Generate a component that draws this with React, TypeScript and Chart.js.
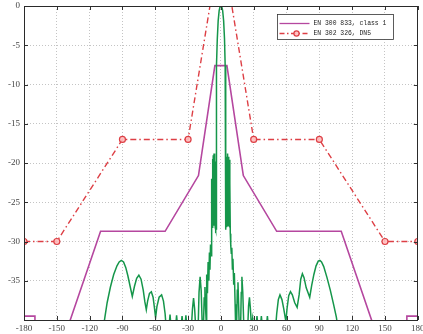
import { useEffect, useRef } from 'react';
import { Chart, registerables } from 'chart.js';

Chart.register(...registerables);

const seriesNames = ['EN 300 833, class 1', 'EN 302 326, DN5'];

const xTickValues = [-180, -150, -120, -90, -60, -30, 0, 30, 60, 90, 120, 150, 180];
const yTickValues = [0, -5, -10, -15, -20, -25, -30, -35, -40];

// EN 300 833 class 1 mask (magenta)
const maskAngles = [-180, -170, -170, -150, -110, -51, -20.5, -5.5, 5.5, 20.5, 51, 110, 150, 170, 170, 180];
const maskGains = [-39.5, -39.5, -45, -45, -28.7, -28.7, -21.6, -7.6, -7.6, -21.6, -28.7, -28.7, -45, -45, -39.5, -39.5];

// EN 302 326 DN5 mask (red dash-dot with circles)
const dn5Angles = [-180, -150, -90, -30, -10, 10, 30, 90, 150, 180];
const dn5Gains = [-30, -30, -17, -17, 0, 0, -17, -17, -30, -30];

// Measured antenna pattern (green)
const greenAngles = [
  -180, -110, -107.5, -106, -104, -101, -98, -95, -93, -91, -89, -87, -85, -83, -81, -79, -77, -75, -73, -71,
  -69.5, -68.2, -67, -65.3, -63.6, -62, -60.8, -59.7, -58.5, -56.5, -54.2, -52.5, -51, -50, -47.5, -46.5, -45.5,
  -41.5, -40.5, -39.5, -36.5, -35.5, -34.5, -33, -32, -31, -27, -26, -25, -24, -23, -20.8, -20, -19, -18, -17, -16,
  -15.3, -14.6, -14, -13.5, -13, -12.3, -11.7, -11, -10.5, -10, -9.5, -9, -8.6, -8.3, -8, -7.7, -7.3, -7, -6.6,
  -6.3, -5.9, -5.6, -5.2, -4.9, -4.6, -4.4, -4.2, -3.9, -3.3, -2.5, -1.6, -0.8, 0,
  0.8, 1.6, 2.5, 3.3, 3.9, 4.2, 4.4, 4.6, 4.9, 5.2, 5.6, 5.9, 6.3, 6.6, 7, 7.3, 7.7, 8, 8.3, 8.6, 9, 9.5, 10, 10.5,
  11, 11.7, 12.3, 13, 13.5, 14.3, 15, 15.6, 16.2, 16.8, 18, 18.6, 19.2, 20, 21, 24.5, 25.3, 26.1, 27, 28, 29, 30,
  32, 33, 34, 36, 37, 38, 41.5, 42.5, 43.5, 50, 51, 52.5, 54, 55.8, 57.5, 59.4, 60.5, 62, 63.6, 65.3, 67.5, 69.7,
  71.5, 73, 74.5, 76, 78, 81.2, 83, 85, 87, 89, 90.5, 92, 94, 97, 100, 103, 105.5, 107, 110, 180,
];
const greenGains = [
  -50, -46, -41, -39.6, -37.8, -35.8, -34.2, -33.1, -32.6, -32.4, -32.6, -33.3, -34.4, -35.7, -37.0, -35.7, -34.7, -34.3, -34.8, -36.2,
  -37.7, -38.7, -37.6, -36.6, -36.4, -37.1, -38.4, -39.7, -38.3, -37.1, -36.8, -37.6, -39.2, -41, -41, -39.3, -41,
  -41, -39.4, -41, -41, -39.5, -41, -41, -39.4, -41, -41, -38.6, -37.2, -38.6, -41, -41, -36.5, -34.5, -36.3, -41, -41,
  -37.2, -35.8, -38.5, -40, -34.2, -36.6, -32.6, -35, -31.4, -33.6, -30.4, -31.8, -28.8, -22, -28.2, -19.5, -27.6, -19, -28,
  -18.8, -27.5, -19.3, -28.2, -19.8, -28.5, -28.4, -12, -7.6, -4.2, -1.9, -0.6, -0.1, 0,
  -0.1, -0.6, -1.9, -4.2, -7.6, -12, -28.4, -28.5, -19.6, -28.2, -19.2, -27.5, -18.8, -28, -19.2, -27.6, -19.6, -28.2, -22.5, -29, -30.5, -31.5, -30.8, -33.5,
  -32.2, -35.5, -34, -38, -41, -41, -36.2, -35.2, -38, -41, -41, -36.5, -34.5, -36.5, -41, -41, -38.2, -37.1, -38.6, -41, -39.8, -41,
  -41, -39.5, -41, -41, -39.5, -41, -41, -39.5, -41, -41, -39.2, -37.4, -36.8, -37.4, -38.6, -40.2, -38.5, -36.9, -36.4, -36.8, -37.8, -38.4,
  -36.8, -34.8, -34.1, -34.6, -35.9, -37.1, -35.6, -34.2, -33.1, -32.5, -32.4, -32.6, -33.2, -34.6, -36.2, -38, -39.6, -41, -46, -50,
];

const MAGENTA = '#b5479f';
const RED = '#dd3f45';
const GREEN = '#15964a';

const toPoints = (xs: number[], ys: number[]) => xs.map((x, i) => ({ x, y: ys[i] }));

const framePlugin = {
  id: 'matlabFrame',
  afterDatasetsDraw(chart: any) {
    const { ctx, chartArea: a, scales } = chart;
    ctx.save();
    // inward ticks
    ctx.strokeStyle = '#333';
    ctx.lineWidth = 1;
    ctx.beginPath();
    xTickValues.forEach((v) => {
      const px = Math.round(scales.x.getPixelForValue(v)) + 0.5;
      ctx.moveTo(px, a.bottom);
      ctx.lineTo(px, a.bottom - 4);
      ctx.moveTo(px, a.top);
      ctx.lineTo(px, a.top + 4);
    });
    yTickValues.forEach((v) => {
      const py = Math.round(scales.y.getPixelForValue(v)) + 0.5;
      ctx.moveTo(a.left, py);
      ctx.lineTo(a.left + 4, py);
      ctx.moveTo(a.right, py);
      ctx.lineTo(a.right - 4, py);
    });
    ctx.stroke();
    // box
    ctx.strokeStyle = '#2a2a2a';
    ctx.strokeRect(Math.round(a.left) + 0.5, Math.round(a.top) + 0.5, Math.round(a.right - a.left) - 1, Math.round(a.bottom - a.top));

    // legend
    const lx = 277.5, ly = 14.5, lw = 116, lh = 25;
    ctx.fillStyle = '#ffffff';
    ctx.fillRect(lx, ly, lw, lh);
    ctx.strokeStyle = '#333';
    ctx.lineWidth = 0.8;
    ctx.strokeRect(lx, ly, lw, lh);

    const row1 = 23.5, row2 = 33.5;
    ctx.lineWidth = 1.3;
    ctx.strokeStyle = MAGENTA;
    ctx.setLineDash([]);
    ctx.beginPath();
    ctx.moveTo(lx + 2, row1);
    ctx.lineTo(lx + 32, row1);
    ctx.stroke();

    ctx.strokeStyle = RED;
    ctx.setLineDash([5, 2.5, 1.5, 2.5]);
    ctx.beginPath();
    ctx.moveTo(lx + 2, row2);
    ctx.lineTo(lx + 32, row2);
    ctx.stroke();
    ctx.setLineDash([]);
    ctx.beginPath();
    ctx.arc(lx + 19, row2, 2.6, 0, Math.PI * 2);
    ctx.fillStyle = 'rgba(255,190,190,0.9)';
    ctx.fill();
    ctx.lineWidth = 1.2;
    ctx.stroke();

    ctx.fillStyle = '#222';
    ctx.font = '6.4px "Liberation Mono"';
    ctx.textBaseline = 'middle';
    ctx.textAlign = 'left';
    ctx.fillText(seriesNames[0], lx + 36, row1);
    ctx.fillText(seriesNames[1], lx + 36, row2);
    ctx.restore();
  },
};

export default function App() {
  const ref = useRef<HTMLCanvasElement>(null);
  useEffect(() => {
    const chart = new Chart(ref.current as HTMLCanvasElement, {
      type: 'line',
      data: {
        datasets: [
          {
            label: 'pattern',
            data: toPoints(greenAngles, greenGains),
            borderColor: GREEN,
            borderWidth: 1.5,
            pointRadius: 0,
            tension: 0,
            order: 0,
          },
          {
            label: seriesNames[0],
            data: toPoints(maskAngles, maskGains),
            borderColor: MAGENTA,
            borderWidth: 1.6,
            pointRadius: 0,
            tension: 0,
            order: 1,
          },
          {
            label: seriesNames[1],
            data: toPoints(dn5Angles, dn5Gains),
            borderColor: RED,
            borderWidth: 1.4,
            borderDash: [6, 3, 1.5, 3],
            pointRadius: (c: any) => (dn5Gains[c.dataIndex] < 0 ? 3 : 0),
            pointBackgroundColor: 'rgba(255,190,190,0.9)',
            pointBorderColor: RED,
            pointBorderWidth: 1.2,
            tension: 0,
            order: 2,
          },
        ],
      },
      options: {
        responsive: false,
        animation: false,
        layout: { padding: { top: 6, right: 2, left: 0, bottom: 0 } },
        plugins: { legend: { display: false }, tooltip: { enabled: false } },
        scales: {
          x: {
            type: 'linear',
            min: -180,
            max: 180,
            afterBuildTicks: (s: any) => {
              s.ticks = xTickValues.map((v) => ({ value: v }));
            },
            ticks: {
              autoSkip: false,
              maxRotation: 0,
              padding: 3,
              color: '#444',
              font: { family: '"Liberation Serif"', size: 9 },
            },
            grid: { color: '#c4c4c4', drawTicks: false, lineWidth: 1 },
            border: { display: false, dash: [1, 2] },
            afterFit: (s: any) => {
              s.height = 14;
              s.paddingLeft = 0;
              s.paddingRight = 0;
            },
          },
          y: {
            type: 'linear',
            min: -40,
            max: 0,
            afterBuildTicks: (s: any) => {
              s.ticks = yTickValues.map((v) => ({ value: v }));
            },
            ticks: {
              autoSkip: false,
              padding: 4,
              color: '#444',
              font: { family: '"Liberation Serif"', size: 9 },
              callback: (v: any) => (v === -40 ? '' : String(v)),
            },
            grid: { color: '#c4c4c4', drawTicks: false, lineWidth: 1 },
            border: { display: false, dash: [1, 2] },
            afterFit: (s: any) => {
              s.width = 24;
              s.paddingTop = 0;
              s.paddingBottom = 0;
            },
          },
        },
      },
      plugins: [framePlugin],
    } as any);
    return () => chart.destroy();
  }, []);
  return (
    <div style={{ position: 'fixed', left: 0, top: 0, width: 423, height: 334, background: '#fff' }}>
      <canvas ref={ref} width={423} height={334} style={{ display: 'block' }} />
    </div>
  );
}
